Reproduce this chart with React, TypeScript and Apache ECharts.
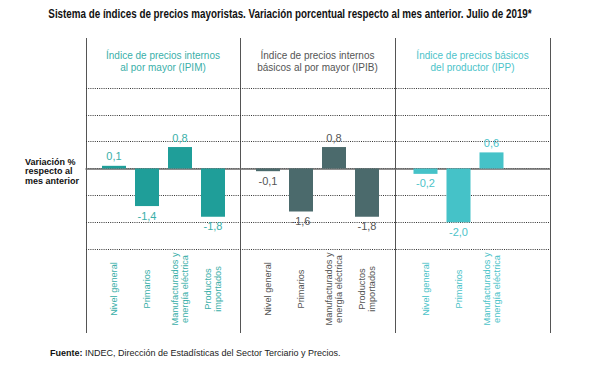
import React, { useEffect, useRef } from "react";
import * as echarts from "echarts";

const titleText =
  "Sistema de índices de precios mayoristas. Variación porcentual respecto al mes anterior. Julio de 2019*";
const panelTitles = [
  "Índice de precios internos\nal por mayor (IPIM)",
  "Índice de precios internos\nbásicos al por mayor (IPIB)",
  "Índice de precios básicos\ndel productor (IPP)",
];
const ipimCategories = ["Nivel general", "Primarios", "Manufacturados y\nenergía eléctrica", "Productos\nimportados"];
const ipimValues = [0.1, -1.4, 0.8, -1.8];
const ipibCategories = ["Nivel general", "Primarios", "Manufacturados y\nenergía eléctrica", "Productos\nimportados"];
const ipibValues = [-0.1, -1.6, 0.8, -1.8];
const ippCategories = ["Nivel general", "Primarios", "Manufacturados y\nenergía eléctrica"];
const ippValues = [-0.2, -2.0, 0.6];
const yMin = -3;
const yMax = 3;
const yInterval = 1;
const yAxisTitle = "Variación %\nrespecto al\nmes anterior";
const sourceLabel = "Fuente:";
const sourceText = " INDEC, Dirección de Estadísticas del Sector Terciario y Precios.";

const barColors = ["#1f9e99", "#4b6a6c", "#45c2c8"];
const textColors = ["#3aafa9", "#555555", "#4cc3c9"];
const panelEdges = [86, 240, 395, 550];
const gridTop = 88;
const gridBottom = 120;
const FONT = "'Liberation Sans', Arial, sans-serif";
const TITLE_FONT_SIZE = 12;
const TITLE_WIDTH = 484;

const fmt = (v: number) => v.toFixed(1).replace(".", ",");

function measure(text: string, font: string): number {
  const c = document.createElement("canvas");
  const ctx = c.getContext("2d");
  if (!ctx) return text.length * 6;
  ctx.font = font;
  return ctx.measureText(text).width;
}

export default function App() {
  const ref = useRef<HTMLDivElement>(null);
  useEffect(() => {
    if (!ref.current) return;
    const chart = echarts.init(ref.current, undefined, { renderer: "svg" });
    const panels = [
      { cats: ipimCategories, vals: ipimValues, left: 97.5, width: 132 },
      { cats: ipibCategories, vals: ipibValues, left: 251.5, width: 132 },
      { cats: ippCategories, vals: ippValues, left: 409, width: 99 },
    ];
    const grids: any[] = [
      { left: panelEdges[0], width: panelEdges[3] - panelEdges[0], top: gridTop, bottom: gridBottom },
    ];
    const xAxes: any[] = [
      {
        type: "value",
        gridIndex: 0,
        min: 0,
        max: 1,
        axisLabel: { show: false },
        axisTick: { show: false },
        splitLine: { show: false },
        axisLine: { show: true, onZero: true, lineStyle: { color: "#6a6a6a", width: 1.5 } },
      },
    ];
    const yAxes: any[] = [
      {
        type: "value",
        gridIndex: 0,
        min: yMin,
        max: yMax,
        interval: yInterval,
        axisLabel: { show: false },
        axisTick: { show: false },
        axisLine: { show: false },
        splitLine: { show: true, lineStyle: { color: "#333", width: 1, type: [1, 1.2] } },
      },
    ];
    const series: any[] = [];
    panels.forEach((p, i) => {
      const gi = i + 1;
      grids.push({ left: p.left, width: p.width, top: gridTop, bottom: gridBottom });
      xAxes.push({
        type: "category",
        gridIndex: gi,
        data: p.cats,
        position: "bottom",
        axisLine: { show: false, onZero: false },
        axisTick: { show: false },
        axisLabel: {
          rotate: 90,
          align: "center",
          verticalAlign: "middle",
          margin: 40,
          interval: 0,
          fontSize: 9.2,
          lineHeight: 10,
          color: textColors[i],
          fontFamily: FONT,
        },
      });
      yAxes.push({
        type: "value",
        gridIndex: gi,
        min: yMin,
        max: yMax,
        interval: yInterval,
        show: false,
        splitLine: { show: false },
      });
      series.push({
        type: "bar",
        xAxisIndex: gi,
        yAxisIndex: gi,
        barWidth: 24,
        itemStyle: { color: barColors[i] },
        data: p.vals.map((v) => ({
          value: v,
          label: {
            show: true,
            position: v >= 0 ? "top" : "bottom",
            distance: 4,
            formatter: () => fmt(v),
            color: textColors[i],
            fontSize: 11,
            fontFamily: FONT,
          },
        })),
      });
    });

    const titleW = measure(titleText, `bold ${TITLE_FONT_SIZE}px 'Liberation Sans', Arial, sans-serif`);
    const titleScale = titleW > 0 ? TITLE_WIDTH / titleW : 0.77;

    const graphics: any[] = [
      {
        type: "text",
        x: 290,
        y: 14,
        scaleX: titleScale,
        style: {
          text: titleText,
          align: "center",
          verticalAlign: "middle",
          fontSize: TITLE_FONT_SIZE,
          fontWeight: "bold",
          fontFamily: FONT,
          fill: "#111",
        },
      },
      {
        type: "text",
        x: 25,
        y: 171,
        style: {
          text: yAxisTitle,
          align: "left",
          verticalAlign: "middle",
          fontSize: 9,
          lineHeight: 9.5,
          fontWeight: "bold",
          fontFamily: FONT,
          fill: "#111",
        },
      },
      {
        type: "text",
        x: 50,
        y: 353,
        style: {
          text: "{b|" + sourceLabel + "}" + sourceText,
          align: "left",
          verticalAlign: "middle",
          fontSize: 9,
          fontFamily: FONT,
          fill: "#222",
          rich: { b: { fontWeight: "bold", fontSize: 9, fontFamily: FONT, fill: "#111" } },
        },
      },
    ];
    panelEdges.forEach((x) => {
      graphics.push({
        type: "line",
        shape: { x1: x + 0.5, y1: 38, x2: x + 0.5, y2: 333 },
        style: { stroke: "#555", lineWidth: 1 },
      });
    });
    panelTitles.forEach((t, i) => {
      graphics.push({
        type: "text",
        x: (panelEdges[i] + panelEdges[i + 1]) / 2,
        y: 61.5,
        style: {
          text: t,
          align: "center",
          verticalAlign: "middle",
          fontSize: 10,
          lineHeight: 11.5,
          fontFamily: FONT,
          fill: textColors[i],
        },
      });
    });

    chart.setOption({
      animation: false,
      backgroundColor: "#fff",
      grid: grids,
      xAxis: xAxes,
      yAxis: yAxes,
      series,
      graphic: graphics,
    });
    return () => chart.dispose();
  }, []);
  return <div ref={ref} style={{ width: 592, height: 369, position: "absolute", left: 0, top: 0 }} />;
}
